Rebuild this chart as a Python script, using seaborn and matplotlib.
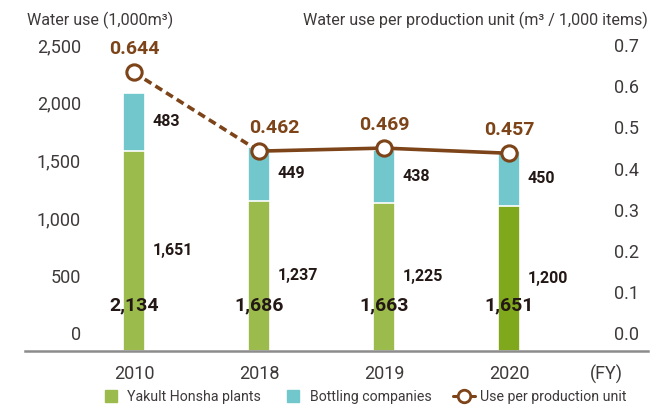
import numpy as np
import matplotlib.pyplot as plt
import seaborn as sns
from matplotlib.lines import Line2D

# values
years = ['2010', '2018', '2019', '2020']
honsha = [1651, 1237, 1225, 1200]
bottling = [483, 449, 438, 450]
totals = [2134, 1686, 1663, 1651]
per_unit = [0.644, 0.462, 0.469, 0.457]
left_ticks = [0, 500, 1000, 1500, 2000, 2500]
right_ticks = [0.0, 0.1, 0.2, 0.3, 0.4, 0.5, 0.6, 0.7]

GREEN = '#9bbb4c'
GREEN_2020 = '#7fa81c'
CYAN = '#72c7cc'
BROWN = '#7c4418'
DARK = '#231815'
TXT = '#3e3a39'

sns.set_style('white')
plt.rcParams['font.family'] = ['Roboto', 'DejaVu Sans']

fig = plt.figure(figsize=(6.68, 4.08), dpi=100)
ax = fig.add_axes([25 / 668, 1 - 350.7 / 408, 623 / 668, 302.4 / 408])

# stacked bars: total (cyan) behind, Yakult Honsha plants (green) in front
sns.barplot(x=years, y=totals, color=CYAN, width=0.18, edgecolor='white',
            linewidth=1.2, saturation=1, ax=ax)
sns.barplot(x=years, y=honsha, hue=years,
            palette=[GREEN, GREEN, GREEN, GREEN_2020], legend=False,
            width=0.18, edgecolor='white', linewidth=1.2, saturation=1, ax=ax)

ax.set_xlim(-0.872, 4.112)
ax.set_ylim(0, 2500)
ax.set_yticks([])
ax.set_xlabel('')
ax.set_ylabel('')
for side in ['left', 'right', 'top']:
    ax.spines[side].set_visible(False)
ax.spines['bottom'].set_color('#8c8c8c')
ax.spines['bottom'].set_linewidth(1.8)
ax.tick_params(axis='x', length=0, pad=10, labelsize=13, labelcolor=TXT)

ax2 = ax.twinx()
ax2.set_ylim(0, 0.7)
ax2.set_yticks([])
for side in ax2.spines:
    ax2.spines[side].set_visible(False)

xpos = np.arange(len(years))
ax2.plot(xpos[:2], per_unit[:2], color=BROWN, lw=2.6, ls=(0, (2.2, 1.3)))
ax2.plot(xpos[1:], per_unit[1:], color=BROWN, lw=2.6)
ax2.plot(xpos, per_unit, ls='none', marker='o', ms=11, mfc='white',
         mec=BROWN, mew=2.2)

# axis labels drawn inside the plot area, like the original
for v in left_ticks:
    dy = 1.3 + 13.9 * (1 - v / 2500)
    ax.annotate(f'{v:,}', xy=(0, v), xycoords=('axes fraction', 'data'),
                xytext=(56, dy), textcoords='offset pixels', ha='right',
                va='center', fontsize=13, color=TXT)
for v in right_ticks:
    dy = 1.3 + 13.9 * (1 - v / 0.7)
    ax2.annotate(f'{v:.1f}', xy=(1, v), xycoords=('axes fraction', 'data'),
                 xytext=(-9, dy), textcoords='offset pixels', ha='right',
                 va='center', fontsize=13, color=TXT)

# value labels
for i in range(len(years)):
    ax.annotate(f'{bottling[i]:,}', xy=(i, honsha[i] + bottling[i] / 2),
                xytext=(19, 0), textcoords='offset pixels', ha='left',
                va='center', fontsize=11.5, fontweight='bold', color=DARK)
    ax.annotate(f'{honsha[i]:,}', xy=(i, honsha[i] / 2),
                xytext=(19, 0), textcoords='offset pixels', ha='left',
                va='center', fontsize=11.5, fontweight='bold', color=DARK)
    ax.annotate(f'{totals[i]:,}', xy=(i, 0), xytext=(0, 45.7),
                textcoords='offset pixels', ha='center', va='center',
                fontsize=14, fontweight='bold', color=DARK)
    dx = 15 if i == 1 else 0
    ax2.annotate(f'{per_unit[i]:.3f}', xy=(i, per_unit[i]), xytext=(dx, 23),
                 textcoords='offset pixels', ha='center', va='center',
                 fontsize=14, fontweight='bold', color=BROWN)

fig.text(27 / 668, 1 - 20 / 408, 'Water use (1,000m³)', ha='left',
         va='center', fontsize=11.6, color=TXT)
fig.text(648 / 668, 1 - 20 / 408,
         'Water use per production unit (m³ / 1,000 items)', ha='right',
         va='center', fontsize=11.6, color=TXT)
fig.text(606 / 668, 1 - 374 / 408, '(FY)', ha='center', va='center',
         fontsize=13, color=TXT)

handles = [
    Line2D([], [], marker='s', ls='none', color=GREEN, ms=8.6,
           label='Yakult Honsha plants'),
    Line2D([], [], marker='s', ls='none', color=CYAN, ms=8.6,
           label='Bottling companies'),
    Line2D([], [], color=BROWN, lw=2.2, marker='o', mfc='white', mec=BROWN,
           mew=2, ms=9, label='Use per production unit'),
]
fig.legend(handles=handles, loc='center', bbox_to_anchor=(363 / 668, 11 / 408),
           ncol=3, frameon=False, handlelength=1.6, handletextpad=0.35,
           columnspacing=1.5, labelcolor=TXT, fontsize=10.2)

fig.savefig('out.png', dpi=100)
